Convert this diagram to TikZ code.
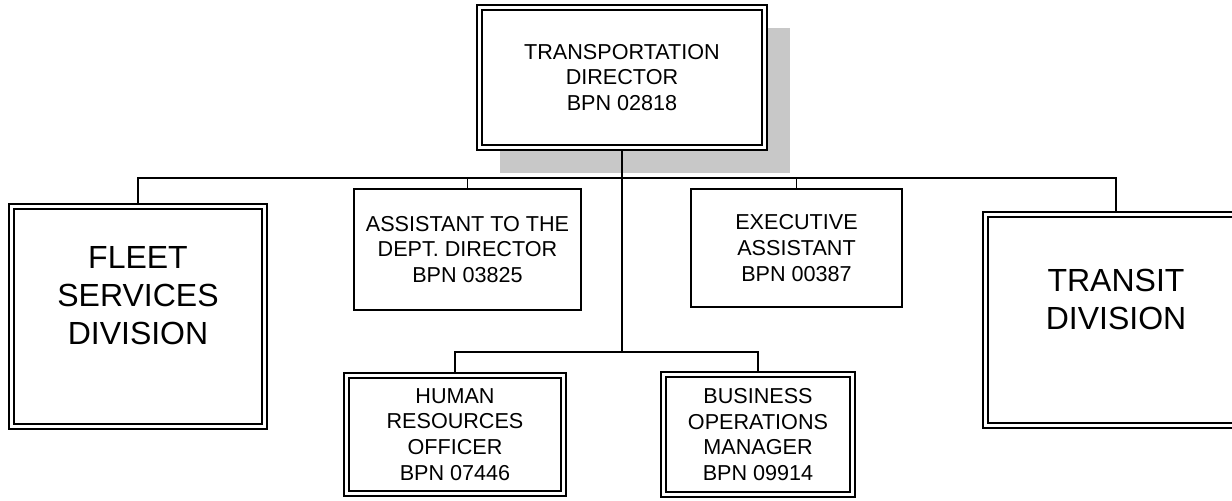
\documentclass[tikz,border=0pt]{standalone}
\usepackage{fontspec}
\setmainfont{Liberation Sans}
\definecolor{shadowgray}{RGB}{200,200,200}
\begin{document}
\begin{tikzpicture}[x=0.5pt,y=-0.5pt,
  every node/.style={inner sep=0pt},
  smalltext/.style={font=\fontsize{10.8}{12.9}\selectfont, align=center},
  bigtext/.style={font=\fontsize{16}{19}\selectfont, align=center},
  singlebox/.style={draw, line width=0.8pt, fill=white, rectangle, outer sep=0.4pt, smalltext},
  dblbox/.style={draw, line width=0.75pt, double, double distance=1.75pt, fill=white, rectangle, outer sep=1.65pt},
  link/.style={draw, line width=0.8pt}
]
\useasboundingbox (0,0) rectangle (1232,500);
% shadow of the director box
\fill[shadowgray] (500,28) rectangle (790,173);
% boxes
\node[dblbox, smalltext, minimum width=142.5pt, minimum height=70pt] (top) at (622,77.5)
  {TRANSPORTATION\\DIRECTOR\\BPN 02818};
\node[dblbox, minimum width=126.5pt, minimum height=110pt,
  label={[bigtext, yshift=10.25pt]center:FLEET\\SERVICES\\DIVISION}] (fleet) at (138,316.5) {};
\node[dblbox, minimum width=130.5pt, minimum height=105.5pt,
  label={[bigtext, yshift=10.5pt]center:TRANSIT\\DIVISION}] (transit) at (1116,320) {};
\node[singlebox, minimum width=113.5pt, minimum height=60.5pt] (asst) at (467.5,249.5)
  {ASSISTANT TO THE\\DEPT. DIRECTOR\\BPN 03825};
\node[singlebox, minimum width=105.5pt, minimum height=59pt] (exec) at (796.5,248)
  {EXECUTIVE\\ASSISTANT\\BPN 00387};
\node[dblbox, smalltext, minimum width=108.5pt, minimum height=59pt] (hr) at (455,434.5)
  {HUMAN\\RESOURCES\\OFFICER\\BPN 07446};
\node[dblbox, smalltext, minimum width=94.5pt, minimum height=60pt] (bom) at (758,434.5)
  {BUSINESS\\OPERATIONS\\MANAGER\\BPN 09914};
% connectors
\coordinate (hbar) at (622,178);
\coordinate (lowbar) at (622,352);
\draw[link] (top.south) -- (lowbar);
\draw[link] (fleet.north) |- (hbar) -| (transit.north);
\draw[link] (asst.north) -- (asst.north |- hbar);
\draw[link] (exec.north) -- (exec.north |- hbar);
\draw[link] (hr.north) |- (lowbar) -| (bom.north);
\end{tikzpicture}
\end{document}
